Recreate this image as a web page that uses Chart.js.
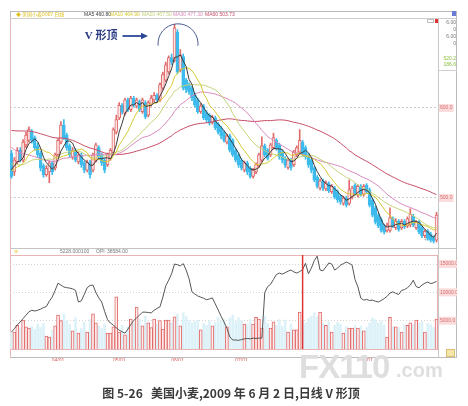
<!DOCTYPE html>
<html><head><meta charset="utf-8">
<script src="https://cdn.jsdelivr.net/npm/chart.js@4.4.0/dist/chart.umd.min.js"></script>
<style>
body{margin:0;background:#fff;width:468px;height:406px;overflow:hidden;position:relative}
.abs{position:absolute}
#caption{left:0;top:384px;width:462px;text-align:center;font:bold 12px "Noto Sans CJK SC",sans-serif;color:#3a3a3a;z-index:3;white-space:pre}
#wm1{left:299px;top:348px;font:bold 33px "Liberation Sans",sans-serif;color:#dedede;z-index:2;letter-spacing:-1px}
#wm2{left:396px;top:359px;font:bold 20px "Liberation Sans",sans-serif;color:#dedede;z-index:2}
</style></head><body>
<canvas id="bg" class="abs" width="468" height="406" style="left:0;top:0;width:468px;height:406px;z-index:0"></canvas>
<canvas id="pc" class="abs" width="447" height="229" style="left:10px;top:19px;width:447px;height:229px;z-index:1"></canvas>
<canvas id="vc" class="abs" width="447" height="106" style="left:10px;top:255px;width:447px;height:106px;z-index:1"></canvas>
<div id="wm1" class="abs">FX110</div><div id="wm2" class="abs">.com</div>
<div id="caption" class="abs">图 5-26   美国小麦,2009 年 6 月 2 日,日线 V 形顶</div>
<script>
// ---------------- DATA ----------------
const priorCloses = [565,558,552,562,575,580,588,596,602,590,585,593,600,588,580,575,582,590,586,594,
612,625,636,630,622,615,608,600,612,620,614,605,596,588,594,600,592,585,578,570,
562,555,548,552,545,538,532,540,546,538,530,524,530,536,528,522,530,538,544];
const opens = [550,529,540,553,542,559,564,573,567,558,
550,536,526,529,539,533,548,562,581,570,
558,545,553,540,548,539,531,540,531,542,
556,548,542,537,544,550,573,589,603,594,
609,598,611,602,607,596,606,592,604,609,
614,609,622,631,640,656,653,684,642,657,
631,626,622,614,609,596,602,595,592,584,
589,582,578,573,562,569,564,553,548,542,
531,539,533,524,529,536,542,558,553,548,
556,564,559,551,544,534,542,537,548,551,
562,556,548,542,533,523,511,519,510,516,
507,511,507,502,494,500,494,501,514,503,
513,504,514,509,498,489,481,476,469,464,
464,477,467,474,467,474,469,470,480,467,
473,467,458,463,460,456,453];
const highs = [553,545,556,556,565,573,579,576,569,561,
552,538,536,541,541,550,566,585,587,572,
560,556,555,551,550,541,542,542,550,561,
558,550,544,550,555,578,592,606,605,611,
611,613,613,611,609,611,608,608,614,617,
616,628,640,651,658,660,693,687,665,660,
633,628,624,617,611,605,604,597,594,592,
591,584,580,575,571,571,566,555,550,544,
541,541,535,533,539,550,568,560,555,561,
572,566,561,553,546,544,544,553,558,576,
564,558,550,544,535,525,521,521,519,518,
515,513,509,504,502,502,520,513,516,515,
515,515,516,511,500,491,483,478,471,472,
489,479,477,476,476,476,479,488,482,475,
475,469,465,465,462,458,484];
const lows = [522,525,538,540,540,556,562,561,553,545,
530,523,524,517,526,531,546,560,565,553,
545,543,540,538,534,528,529,522,529,540,
543,536,528,535,542,548,571,587,593,592,
596,596,601,600,596,594,588,590,602,607,
606,607,620,629,638,648,651,638,640,620,
617,615,608,601,594,594,587,584,581,582,
576,571,566,562,560,551,546,540,534,531,
529,526,522,522,527,534,540,546,542,546,
554,553,543,539,534,532,531,535,546,549,
546,543,534,528,518,511,509,508,508,506,
505,499,495,493,492,490,492,499,503,501,
502,502,505,490,479,471,467,462,460,462,
462,467,465,463,465,466,467,468,468,465,
460,456,456,453,451,450,451];
const closes = [524,542,553,542,562,570,576,564,556,548,
533,526,533,539,529,548,564,581,567,556,
548,553,542,548,537,531,540,526,548,559,
546,539,531,548,553,576,587,603,596,609,
598,611,603,609,598,609,590,606,611,614,
609,626,637,648,656,651,689,640,659,622,
620,618,611,603,596,602,589,587,583,590,
578,573,569,564,569,553,548,542,537,533,
539,529,524,531,537,548,558,548,544,559,
567,556,546,542,537,542,534,551,556,564,
548,546,537,531,520,513,519,511,517,508,
513,501,498,496,500,492,509,511,506,513,
504,513,507,492,481,473,469,464,462,470,
478,469,474,465,474,468,477,482,470,473,
462,458,463,455,453,452,481];
const volumes = [3000,3000,4200,3600,5100,3900,3700,4000,3500,4400,
3800,4500,2300,2100,3300,4100,6000,5000,6200,5000,
4300,3200,5500,2800,3600,4700,3000,5200,6200,4600,
4100,3600,4400,2800,2800,3900,9200,3000,4200,2500,
3900,5300,4600,7400,5200,4100,5800,4600,3800,5300,
4400,5000,3500,5100,5100,4600,5700,6200,4100,6400,
5800,5000,4700,4900,5100,3400,4500,4200,4900,4100,
4700,5600,4900,5200,3900,5500,6000,4800,5500,5000,
4400,4300,5200,4400,5600,5300,3700,5800,4500,3700,
4800,4200,5200,4000,5100,3000,4400,3400,3400,6500,
5000,4600,5400,5800,6400,5700,6500,4600,4200,4800,
3000,4200,4700,4400,2800,4000,3700,3700,4200,3700,
4100,3200,3800,4600,5500,5200,4600,4900,4200,2100,
5600,4000,3900,3800,3000,4300,4200,4600,4400,5100,
4600,4800,3000,4500,4300,3800,5300];
const openInterest = [24500,25400,26400,27200,28100,29000,29900,30300,30100,30300,
30600,31000,31300,32700,33800,35600,37500,37000,36500,36300,
36200,36000,35600,32500,32800,34500,36300,36900,37000,35000,
33600,32500,30000,27800,26900,26400,25600,25000,24600,24200,
25300,26500,27600,28300,29000,29800,29800,29700,29600,30300,
30800,31200,33800,36800,38300,40000,42600,42400,42100,42700,
41000,38700,35200,34600,34100,33800,33500,33100,33300,33600,
32000,30400,28700,27200,25500,23200,22400,22400,22300,22500,
22700,22800,22700,22900,22800,22900,22900,35000,36600,37200,
38500,39800,40200,39900,40300,40700,41000,40500,40200,40600,
41100,42800,40000,41500,43500,44700,41000,40800,41800,42900,
42600,41000,41500,42300,42700,43100,42800,42300,38500,36500,
33500,33000,33200,32900,33000,32700,32500,32900,33400,34000,
34900,35200,34800,34500,35600,35800,36300,37000,38300,36600,
36300,37000,37500,37800,37400,37600,38000];
const tickLabels = ['04/01','05/01','06/01','07/01','09/01'];
const priceTicks = [500, 600];
const volTicks = [5000, 10000, 15000];
const maPeriods = [5, 10, 20, 30, 60];
const maColors = ['#3a3a3a', '#d6c830', '#c4d27a', '#d888bc', '#c64c66'];
const holidays = ['2009-04-10','2009-05-25','2009-07-03','2009-09-07'];
const peakIndex = 56, cursorIndex = 100;

// trading-day categories
const dates = [];
{
  const d = new Date(Date.UTC(2009, 2, 10));
  while (dates.length < closes.length) {
    const wd = d.getUTCDay(), iso = d.toISOString().slice(0,10);
    if (wd !== 0 && wd !== 6 && !holidays.includes(iso)) dates.push(iso.slice(5,7) + '/' + iso.slice(8,10));
    d.setUTCDate(d.getUTCDate() + 1);
  }
}
const isUp = closes.map((c,i) => c >= opens[i]);
function movingAvg(n) {
  const all = priorCloses.concat(closes), off = priorCloses.length;
  return closes.map((_, i) => {
    const e = off + i; if (e - n + 1 < 0) return null;
    let s = 0; for (let k = e - n + 1; k <= e; k++) s += all[k];
    return s / n;
  });
}
const maSeries = maPeriods.map(movingAvg);

// ---------------- BACKGROUND DECOR ----------------
const bg = document.getElementById('bg').getContext('2d');
function ln(x1,y1,x2,y2,c){bg.strokeStyle=c;bg.lineWidth=1;bg.beginPath();bg.moveTo(x1,y1);bg.lineTo(x2,y2);bg.stroke();}
bg.strokeStyle='#bcbcbc'; bg.lineWidth=1; bg.strokeRect(10.5,11.5,446,346);
ln(10,18.5,457,18.5,'#cfcfcf');
ln(438.5,19,438.5,358,'#c8c8c8');
ln(10,248.5,457,248.5,'#c4c4c4');
ln(10,255.5,438,255.5,'#ebb4b4');
ln(10,349.5,438,349.5,'#ebb4b4');
ln(437.5,255,437.5,350,'#ebb4b4');
ln(10.5,19,10.5,358,'#e6b8b8');
ln(439,70.5,457,70.5,'#d0d0d0');
bg.fillStyle='#6b7bd8'; bg.fillRect(452,11,4,5);
bg.fillStyle='#e23030'; bg.fillRect(435,19,3,4);
bg.strokeStyle='#c0c0c0'; bg.strokeRect(427.5,19.5,6,3);
bg.fillStyle='#f4e6a8'; bg.fillRect(446,349,9,8);
bg.strokeStyle='#d8c070'; bg.strokeRect(446.5,349.5,8,7);
bg.textBaseline='middle';
bg.fillStyle='#e0c020'; bg.font='5px "Noto Sans CJK SC", sans-serif';
bg.fillText('◆ 美国小麦0907 日线', 16, 14.5);
bg.font='5px "Liberation Sans", sans-serif';
const last = closes.length - 1;
const headX = [84, 110, 142, 173, 205];
maPeriods.forEach((p, k) => {
  bg.fillStyle = maColors[k];
  bg.fillText('MA' + p + ' ' + maSeries[k][last].toFixed(2), headX[k], 14.5);
});
bg.textAlign='right'; bg.fillStyle='#777';
bg.fillText('6.00', 456, 23); bg.fillText('0', 456, 30); bg.fillText('6.00', 456, 37); bg.fillText('0', 456, 44);
bg.fillStyle='#8cc040'; bg.fillText('520.2', 456, 59); bg.fillText('186.6', 456, 65);
bg.textAlign='left'; bg.fillStyle='#777';
bg.fillText('5228.000100', 60, 251.5); bg.fillText('OPI', 96, 251.5); bg.fillText('38584.00', 107, 251.5);
bg.fillStyle='#e8d040'; bg.fillText('⊕', 14, 251.5);
bg.fillStyle='#999'; bg.fillText('+ -', 424, 240);

// ---------------- PRICE CHART ----------------
const annot = {
  id: 'annot',
  afterDatasetsDraw(c) {
    const ctx = c.ctx, xs = c.scales.x, ys = c.scales.y;
    const px = xs.getPixelForValue(peakIndex), py = ys.getPixelForValue(highs[peakIndex]);
    ctx.save();
    ctx.strokeStyle = '#4c5c92'; ctx.lineWidth = 1;
    ctx.beginPath(); ctx.arc(px + 3.5, py + 19.5, 20, Math.PI * 0.97, Math.PI * 2.03); ctx.stroke();
    const ay = py + 11.7, ax1 = px - 52, ax2 = px - 26.5;
    ctx.strokeStyle = '#2c4796'; ctx.fillStyle = '#2c4796'; ctx.lineWidth = 1.8;
    ctx.beginPath(); ctx.moveTo(ax1, ay); ctx.lineTo(ax2 - 5, ay); ctx.stroke();
    ctx.beginPath(); ctx.moveTo(ax2, ay); ctx.lineTo(ax2 - 7, ay - 3.2); ctx.lineTo(ax2 - 7, ay + 3.2); ctx.closePath(); ctx.fill();
    ctx.fillStyle = '#2a3a82'; ctx.font = 'bold 11px "Liberation Serif", "Noto Sans CJK SC", serif';
    ctx.textAlign = 'right'; ctx.textBaseline = 'middle';
    ctx.fillText('V 形顶', px - 57, ay + 0.5);
    ctx.restore();
  }
};
const maDatasets = maSeries.map((s, k) => ({
  type: 'line', data: s, borderColor: maColors[k], borderWidth: 1, pointRadius: 0, tension: 0, order: 0
}));
new Chart(document.getElementById('pc'), {
  data: {
    labels: dates,
    datasets: [
      ...maDatasets,
      { type: 'bar', data: opens.map((o,i) => [Math.min(o, closes[i]), Math.max(o, closes[i])]),
        backgroundColor: ctx => isUp[ctx.dataIndex] ? '#fde6e6' : '#3dbbec',
        borderColor: ctx => isUp[ctx.dataIndex] ? '#e06a6a' : '#3dbbec',
        borderWidth: 1, borderSkipped: false, barThickness: 3, minBarLength: 1, grouped: false, order: 1 },
      { type: 'bar', data: lows.map((l,i) => [l, highs[i]]),
        backgroundColor: ctx => isUp[ctx.dataIndex] ? '#e06a6a' : '#3dbbec',
        borderWidth: 0, barThickness: 1, grouped: false, order: 2 }
    ]
  },
  options: {
    responsive: false, animation: false, events: [],
    layout: { padding: 0 },
    plugins: { legend: { display: false }, tooltip: { enabled: false } },
    scales: {
      x: { display: false, offset: true, grid: { display: false } },
      y: { position: 'right', min: 444.4, max: 698.9,
        afterFit(s) { s.width = 19; s.paddingTop = 0; s.paddingBottom = 0; },
        afterBuildTicks(s) { s.ticks = priceTicks.map(v => ({ value: v })); },
        grid: { color: '#cccccc', drawTicks: false },
        border: { display: false, dash: [2, 2] },
        ticks: { color: '#d87070', font: { size: 5, family: 'Liberation Sans' }, padding: 2,
          callback: v => Number(v).toFixed(1), showLabelBackdrop: true, backdropColor: '#fbdcdc', backdropPadding: 1 } }
    }
  },
  plugins: [annot]
});

// ---------------- VOLUME / OI CHART ----------------
const cursor = {
  id: 'cursor',
  afterDatasetsDraw(c) {
    const ctx = c.ctx, x = c.scales.x.getPixelForValue(cursorIndex), a = c.chartArea;
    ctx.save(); ctx.strokeStyle = '#e03434'; ctx.lineWidth = 1.5;
    ctx.beginPath(); ctx.moveTo(x, a.top); ctx.lineTo(x, a.bottom); ctx.stroke(); ctx.restore();
  }
};
new Chart(document.getElementById('vc'), {
  data: {
    labels: dates,
    datasets: [
      { type: 'line', data: openInterest, yAxisID: 'yOI', borderColor: '#555555', borderWidth: 1, pointRadius: 0, tension: 0, order: 0 },
      { type: 'bar', data: volumes.map((v,i) => isUp[i] ? v : null), yAxisID: 'y',
        backgroundColor: '#fdeeee', borderColor: '#e26a6a', borderWidth: 1, borderSkipped: 'bottom', barThickness: 3, grouped: false, order: 1 },
      { type: 'bar', data: volumes.map((v,i) => isUp[i] ? null : v), yAxisID: 'y',
        backgroundColor: '#dcf2f8', borderWidth: 0, barThickness: 2, grouped: false, order: 2 }
    ]
  },
  options: {
    responsive: false, animation: false, events: [],
    layout: { padding: 0 },
    plugins: { legend: { display: false }, tooltip: { enabled: false } },
    scales: {
      x: { offset: true, grid: { display: false }, border: { display: false },
        afterFit(s) { s.height = 12; s.paddingLeft = 0; s.paddingRight = 0; },
        ticks: { autoSkip: false, maxRotation: 0, minRotation: 0, color: '#d85a5a', padding: 1,
          font: { size: 5, family: 'Liberation Sans' },
          callback: (v, i) => tickLabels.includes(dates[i]) ? dates[i] : '' } },
      y: { position: 'right', min: 0, max: 16600,
        afterFit(s) { s.width = 19; s.paddingTop = 0; s.paddingBottom = 0; },
        afterBuildTicks(s) { s.ticks = volTicks.map(v => ({ value: v })); },
        grid: { color: '#d4d4d4', drawTicks: false },
        border: { display: false, dash: [1, 2] },
        ticks: { color: '#d87070', font: { size: 5, family: 'Liberation Sans' }, padding: 2,
          callback: v => Number(v).toFixed(1), showLabelBackdrop: true, backdropColor: '#fbdcdc', backdropPadding: 1 } },
      yOI: { display: false, min: 20000, max: 45000 }
    }
  },
  plugins: [cursor]
});
</script>
</body></html>
